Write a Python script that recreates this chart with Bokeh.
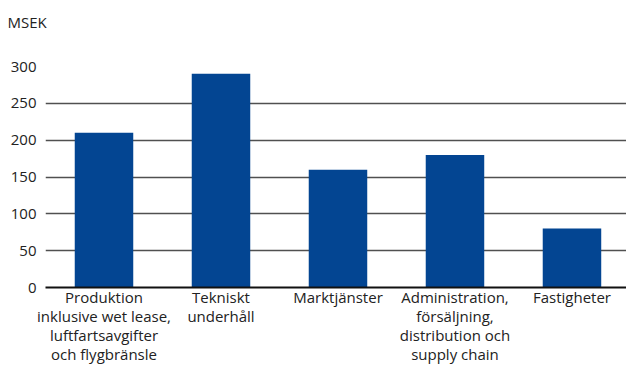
from bokeh.plotting import figure
from bokeh.models import FixedTicker, Range1d, Title
from bokeh.embed import file_html
from bokeh.resources import INLINE

categories = [
    "Produktion\ninklusive wet lease,\nluftfartsavgifter\noch flygbränsle",
    "Tekniskt\nunderhåll",
    "Marktjänster",
    "Administration,\nförsäljning,\ndistribution och\nsupply chain",
    "Fastigheter",
]
values = [210, 290, 160, 180, 80]
y_ticks = [0, 50, 100, 150, 200, 250, 300]
unit_label = "MSEK"

FONT = "Open Sans"
xs = list(range(len(categories)))

p = figure(width=626, height=366, output_backend="svg", toolbar_location=None,
           x_range=Range1d(-0.5, 4.466), y_range=Range1d(0, 300),
           min_border_left=45, min_border_right=0, min_border_top=66, min_border_bottom=78)
p.outline_line_color = None
p.background_fill_color = "white"

p.vbar(x=xs, top=values, width=0.5, color="#034592", line_color=None)

p.xgrid.grid_line_color = None
p.ygrid.ticker = FixedTicker(ticks=y_ticks)
p.ygrid.grid_line_color = "#505050"
p.ygrid.grid_line_width = 1.4

p.yaxis.ticker = FixedTicker(ticks=y_ticks)
p.yaxis.axis_line_color = None
p.yaxis.major_tick_line_color = None
p.yaxis.minor_tick_line_color = None
p.yaxis.major_tick_out = 0
p.yaxis.major_tick_in = 0
p.yaxis.minor_tick_out = 0
p.yaxis.major_label_standoff = 9
p.yaxis.major_label_text_font = FONT
p.yaxis.major_label_text_font_size = "15px"
p.yaxis.major_label_text_color = "#222222"

p.xaxis.ticker = FixedTicker(ticks=xs)
p.xaxis.major_label_overrides = {i: c for i, c in enumerate(categories)}
p.xaxis.axis_line_color = "#111111"
p.xaxis.axis_line_width = 2
p.xaxis.major_tick_line_color = None
p.xaxis.minor_tick_line_color = None
p.xaxis.major_tick_out = 0
p.xaxis.major_tick_in = 0
p.xaxis.minor_tick_out = 0
p.xaxis.major_label_standoff = -1
p.xaxis.major_label_text_font = FONT
p.xaxis.major_label_text_font_size = "15px"
p.xaxis.major_label_text_color = "#222222"
p.xaxis.major_label_text_line_height = 0.95

# unit title is the outer (top) title; a tiny spacer title sits between it and the frame
p.title = Title(text=unit_label, align="left", offset=-38, vertical_align="bottom",
                standoff=0, text_font=FONT, text_font_size="15px",
                text_font_style="normal", text_color="#222222")
p.add_layout(Title(text=" ", standoff=32, text_font_size="1px"), "above")

open("out.html", "w").write(file_html(p, INLINE))
